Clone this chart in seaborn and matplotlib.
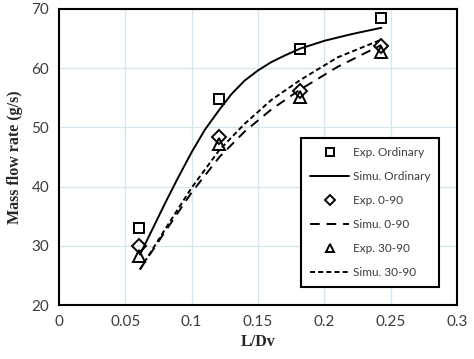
import matplotlib
matplotlib.use("Agg")
import matplotlib.pyplot as plt
import seaborn as sns

# ── Dados ──────────────────────────────────────────────────────
x_exp = [0.0605, 0.1207, 0.1815, 0.2427]
exp_ordinary = [33.0, 54.7, 63.3, 68.5]
exp_0_90 = [30.0, 48.4, 56.1, 63.8]
exp_30_90 = [28.3, 47.1, 55.1, 62.7]

x_sim_ord = [0.061, 0.07, 0.08, 0.09, 0.10, 0.11, 0.121, 0.13, 0.14, 0.15,
             0.16, 0.17, 0.182, 0.20, 0.22, 0.243]
sim_ordinary = [28.5, 32.6, 37.2, 41.6, 45.8, 49.6, 53.0, 55.6, 57.9, 59.6,
                61.0, 62.1, 63.3, 64.6, 65.7, 66.8]

x_sim = [0.061, 0.08, 0.10, 0.121, 0.14, 0.16, 0.182, 0.21, 0.243]
sim_0_90 = [26.0, 32.4, 39.0, 45.0, 49.3, 53.0, 56.4, 60.2, 63.9]
sim_30_90 = [26.0, 32.8, 39.8, 46.2, 50.6, 54.6, 58.0, 61.8, 64.8]

x_ticks = [0, 0.05, 0.1, 0.15, 0.2, 0.25, 0.3]
x_tick_labels = ["0", "0.05", "0.1", "0.15", "0.2", "0.25", "0.3"]
y_ticks = [20, 30, 40, 50, 60, 70]

sns.set_theme(style="white")
plt.rcParams["font.family"] = ["Lato", "DejaVu Sans"]

fig = plt.figure(figsize=(4.74, 3.59), dpi=100)
ax = fig.add_axes([0.1245, 0.1504, 0.8395, 0.825])

mk = dict(linestyle="none", color="black", markerfacecolor="none",
          markeredgecolor="black", markeredgewidth=1.4)
lw = 1.4

sns.lineplot(x=x_exp, y=exp_ordinary, marker="s", markersize=7.5, ax=ax,
             label="Exp. Ordinary", **mk)
sns.lineplot(x=x_sim_ord, y=sim_ordinary, color="black", linewidth=lw, ax=ax,
             label="Simu. Ordinary")
sns.lineplot(x=x_exp, y=exp_0_90, marker="D", markersize=7, ax=ax,
             label="Exp. 0-90", **mk)
sns.lineplot(x=x_sim, y=sim_0_90, color="black", linewidth=lw, ax=ax,
             dashes=False, linestyle=(0, (5, 3.5)), label="Simu. 0-90")
sns.lineplot(x=x_exp, y=exp_30_90, marker="^", markersize=8, ax=ax,
             label="Exp. 30-90", **mk)
sns.lineplot(x=x_sim, y=sim_30_90, color="black", linewidth=lw, ax=ax,
             dashes=False, linestyle=(0, (2.6, 1.6)), label="Simu. 30-90")

ax.set_xlim(0, 0.3)
ax.set_ylim(20, 70)
ax.set_xticks(x_ticks)
ax.set_xticklabels(x_tick_labels)
ax.set_yticks(y_ticks)
ax.grid(True, color="#d6e4ec", linewidth=0.9)
ax.set_axisbelow(True)
ax.tick_params(axis="both", length=0, labelsize=11, colors="#3c3c3c", pad=7)

for s in ax.spines.values():
    s.set_visible(True)
    s.set_color("black")
    s.set_linewidth(1.5)

ax.set_xlabel("L/Dv", fontsize=11.5, fontweight="bold",
              family="Liberation Serif", labelpad=4)
ax.set_ylabel("Mass flow rate (g/s)", fontsize=11.5, fontweight="bold",
              family="Liberation Serif", labelpad=6)

leg = ax.legend(loc="lower right", bbox_to_anchor=(0.955, 0.062),
                fontsize=8.5, frameon=True, fancybox=False, framealpha=1,
                edgecolor="black", handlelength=3.3, labelspacing=1.1,
                borderpad=0.75, handletextpad=0.3, markerscale=0.7,
                borderaxespad=0)
leg.get_frame().set_linewidth(1.5)
for t in leg.get_texts():
    t.set_color("#3c3c3c")

fig.savefig("out.png", dpi=100)
